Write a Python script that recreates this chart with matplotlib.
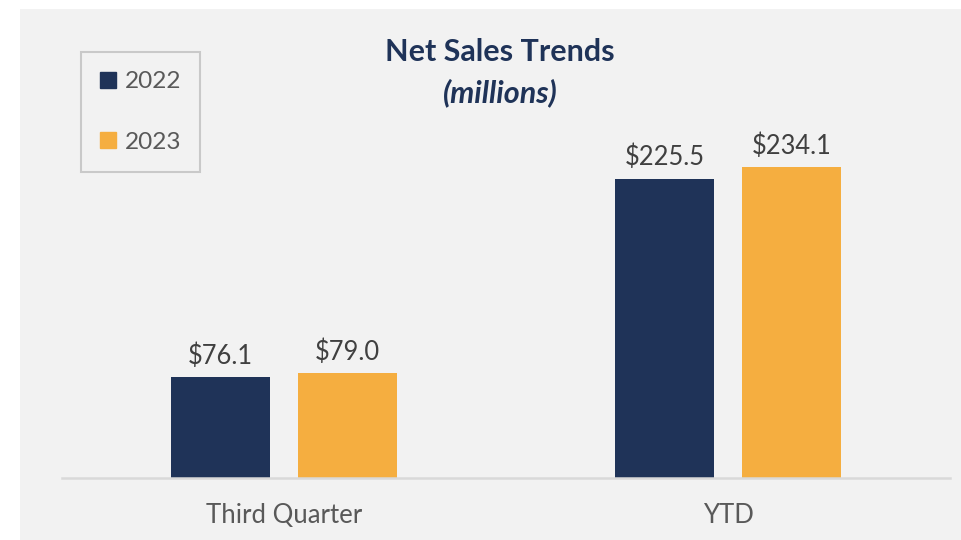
import numpy as np
import matplotlib.pyplot as plt
from matplotlib.patches import Rectangle
from matplotlib.lines import Line2D

# Data
categories = ['Third Quarter', 'YTD']
years = ['2022', '2023']
sales_2022 = [76.1, 225.5]
sales_2023 = [79.0, 234.1]

navy = '#1f3358'
orange = '#f5ae40'
plt.rcParams['font.family'] = ['Lato', 'DejaVu Sans']

fig = plt.figure(figsize=(9.61, 5.40), dpi=100, facecolor='white')
# gray panel behind the chart
fig.patches.append(Rectangle((20 / 961, 0), 1, 531 / 540, transform=fig.transFigure,
                             facecolor='#f2f2f2', edgecolor='none', zorder=-10))

ax = fig.add_axes([62 / 961, 62 / 540, 888 / 961, 418 / 540])
ax.set_facecolor('none')

x = np.arange(len(categories))
w = 0.223
off = 0.143
b1 = ax.bar(x - off, sales_2022, w, color=navy, label=years[0])
b2 = ax.bar(x + off, sales_2023, w, color=orange, label=years[1])

for bars, vals in [(b1, sales_2022), (b2, sales_2023)]:
    ax.bar_label(bars, labels=[f'${v:.1f}' for v in vals], padding=6,
                 fontsize=18.4, color='#404040')

ax.set_xlim(-0.5, 1.5)
ax.set_ylim(0, 315)
ax.set_yticks([])
ax.set_xticks(x)
ax.set_xticklabels(categories, fontsize=18.5, color='#595959')
ax.tick_params(axis='x', length=0, pad=18)
for s in ['top', 'left', 'right']:
    ax.spines[s].set_visible(False)
ax.spines['bottom'].set_color('#d9d9d9')
ax.spines['bottom'].set_linewidth(1.8)

# Title
fig.text(500 / 961, 1 - 52 / 540, 'Net Sales Trends', ha='center', va='center',
         fontsize=22, fontweight='bold', color=navy)
fig.text(500 / 961, 1 - 93 / 540, '(millions)', ha='center', va='center',
         fontsize=22, fontweight='bold', style='italic', color=navy)

# Legend
handles = [Line2D([], [], marker='s', linestyle='none', markersize=11.5,
                  markerfacecolor=c, markeredgecolor=c) for c in (navy, orange)]
leg = fig.legend(handles, years, loc='upper left',
                 bbox_to_anchor=(81 / 961, 1 - 52 / 540), fontsize=17.6,
                 frameon=True, fancybox=False, labelspacing=1.62,
                 handlelength=0.65, handletextpad=0.35, borderpad=0.78,
                 borderaxespad=0, labelcolor='#595959')
leg.get_frame().set_edgecolor('#bfbfbf')
leg.get_frame().set_linewidth(1.5)
leg.get_frame().set_facecolor('#f2f2f2')

fig.savefig('out.png', dpi=100, facecolor=fig.get_facecolor())
